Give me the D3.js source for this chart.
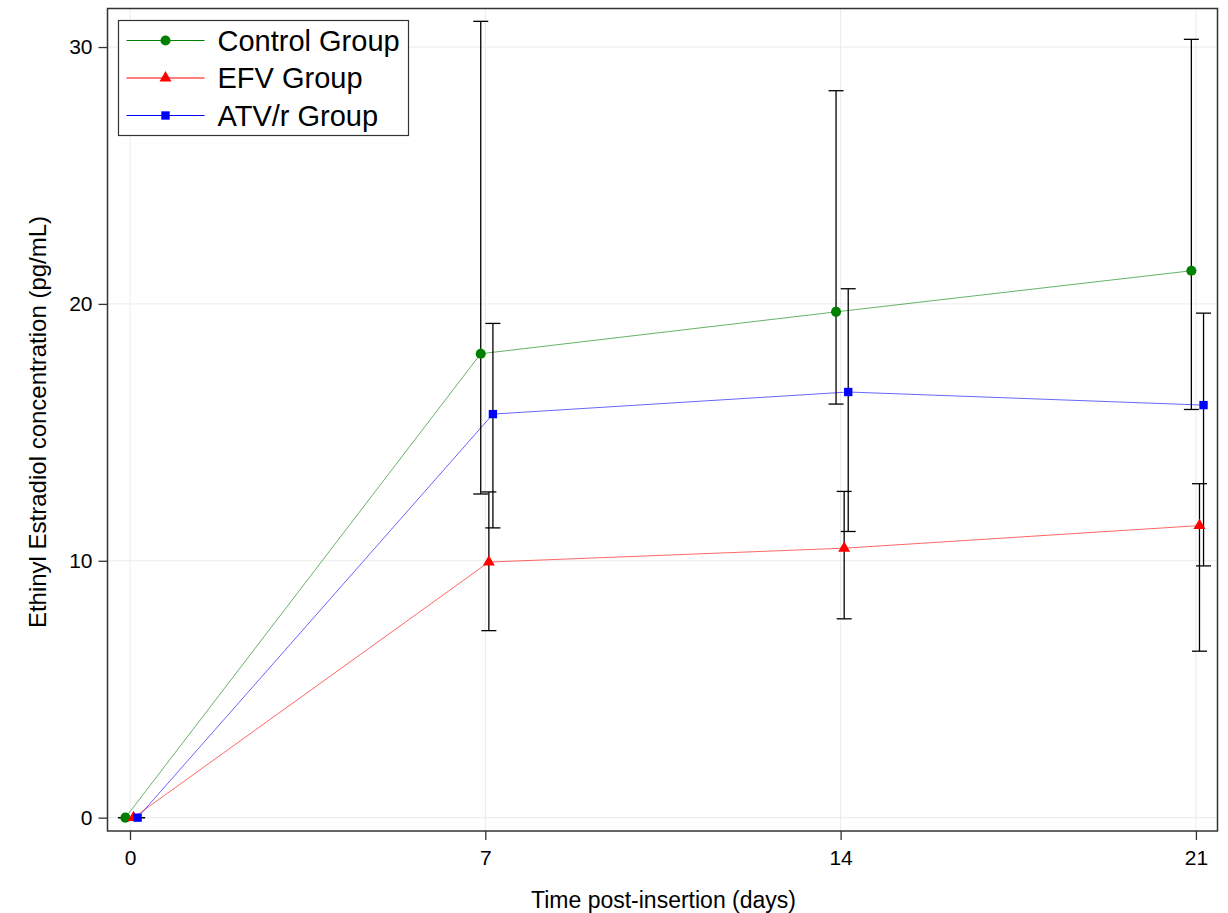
<!DOCTYPE html>
<html>
<head>
<meta charset="utf-8">
<script src="https://cdn.jsdelivr.net/npm/d3@7"></script>
<style>
  body { margin: 0; background: #fff; }
  text { font-family: "Liberation Sans", Arial, sans-serif; fill: #000; }
</style>
</head>
<body>
<svg width="1228" height="913"></svg>
<script>
// data
const days = [0, 7, 14, 21];
const groups = ["Control Group", "EFV Group", "ATV/r Group"];
const colors = ["#008000", "#ff0000", "#0000ff"];
const shapes = ["circle", "triangle", "square"];
const dodge = [-0.09, 0.07, 0.15];   // small horizontal offset per group (days)

const controlMean = [0, 18.06, 19.69, 21.29];
const controlLow  = [0, 12.6, 16.1, 15.89];
const controlHigh = [0, 31.0, 28.3, 30.3];

const efvMean = [0, 9.95, 10.49, 11.37];
const efvLow  = [0, 7.28, 7.74, 6.48];
const efvHigh = [0, 12.68, 12.7, 13.0];

const atvMean = [0, 15.71, 16.57, 16.06];
const atvLow  = [0, 11.28, 11.14, 9.8];
const atvHigh = [0, 19.24, 20.59, 19.64];

const yTicks = [0, 10, 20, 30];

const series = [
    {mean: controlMean, low: controlLow, high: controlHigh},
    {mean: efvMean, low: efvLow, high: efvHigh},
    {mean: atvMean, low: atvLow, high: atvHigh}
].map((s, i) => ({
    name: groups[i], color: colors[i], shape: shapes[i], dx: dodge[i],
    pts: days.map((d, j) => ({day: d, mean: s.mean[j], low: s.low[j], high: s.high[j]}))
}));

const svg = d3.select("svg");
const pLeft = 107.5, pRight = 1217.5, pTop = 8.5, pBottom = 831;

const x = d3.scaleLinear().domain([-0.443, 21.425]).range([pLeft, pRight]);
const y = d3.scaleLinear().domain([-0.52, 31.5]).range([pBottom, pTop]);

// grid
const grid = svg.append("g").attr("stroke", "#ebebeb").attr("stroke-width", 1);
grid.selectAll(".gx").data(days).enter().append("line")
    .attr("x1", d => x(d)).attr("x2", d => x(d))
    .attr("y1", pTop).attr("y2", pBottom);
grid.selectAll(".gy").data(yTicks).enter().append("line")
    .attr("x1", pLeft).attr("x2", pRight)
    .attr("y1", d => y(d)).attr("y2", d => y(d));

// axes
const xAxis = d3.axisBottom(x).tickValues(days).tickSize(9).tickPadding(10);
const yAxis = d3.axisLeft(y).tickValues(yTicks).tickSize(9).tickPadding(6);

const gx = svg.append("g").attr("transform", "translate(0," + pBottom + ")").call(xAxis);
const gy = svg.append("g").attr("transform", "translate(" + pLeft + ",0)").call(yAxis);
[gx, gy].forEach(g => {
    g.select(".domain").remove();
    g.selectAll(".tick line").attr("stroke", "#333").attr("stroke-width", 1.3);
    g.selectAll(".tick text").style("font-size", "21px").attr("fill", "#000");
});

// lines
const line = d3.line().x(d => d.x).y(d => d.y);
series.forEach(s => {
    svg.append("path")
        .datum(s.pts.map(p => ({x: x(p.day + s.dx), y: y(p.mean)})))
        .attr("d", line)
        .attr("fill", "none")
        .attr("stroke", s.color)
        .attr("stroke-opacity", 0.6)
        .attr("stroke-width", 1);
});

// error bars
series.forEach(s => {
    const g = svg.append("g").attr("stroke", "#000").attr("stroke-width", 1.3);
    s.pts.forEach(p => {
        const cx = x(p.day + s.dx);
        g.append("line").attr("x1", cx).attr("x2", cx).attr("y1", y(p.low)).attr("y2", y(p.high));
        [p.low, p.high].forEach(v => {
            g.append("line").attr("x1", cx - 7.5).attr("x2", cx + 7.5)
                .attr("y1", y(v)).attr("y2", y(v));
        });
    });
});

// markers
const symbolFor = {
    circle: d3.symbol().type(d3.symbolCircle).size(80),
    triangle: d3.symbol().type(d3.symbolTriangle).size(62),
    square: d3.symbol().type(d3.symbolSquare).size(70)
};
series.forEach(s => {
    svg.append("g").selectAll("path").data(s.pts).enter().append("path")
        .attr("transform", p => "translate(" + x(p.day + s.dx) + "," + y(p.mean) + ")")
        .attr("d", symbolFor[s.shape])
        .attr("fill", s.color);
});

// frame
svg.append("rect")
    .attr("x", pLeft).attr("y", pTop)
    .attr("width", pRight - pLeft).attr("height", pBottom - pTop)
    .attr("fill", "none").attr("stroke", "#333").attr("stroke-width", 1.5);

// legend
const lg = svg.append("g").attr("transform", "translate(118.5,20.5)");
lg.append("rect").attr("width", 290).attr("height", 115)
    .attr("fill", "#fff").attr("stroke", "#333").attr("stroke-width", 1.2);
series.forEach((s, i) => {
    const ly = 20 + i * 37.5;
    lg.append("line").attr("x1", 8).attr("x2", 86).attr("y1", ly).attr("y2", ly)
        .attr("stroke", s.color).attr("stroke-width", 1.2);
    lg.append("path").attr("transform", "translate(47," + ly + ")")
        .attr("d", symbolFor[s.shape]).attr("fill", s.color);
    lg.append("text").attr("x", 99).attr("y", ly).attr("dy", "0.36em")
        .style("font-size", "29px").text(s.name);
});

// axis titles
svg.append("text")
    .attr("x", (pLeft + pRight) / 2 + 1).attr("y", 908)
    .attr("text-anchor", "middle")
    .style("font-size", "23px")
    .text("Time post-insertion (days)");

svg.append("text")
    .attr("transform", "translate(46," + 422 + ") rotate(-90)")
    .attr("text-anchor", "middle")
    .style("font-size", "24px")
    .text("Ethinyl Estradiol concentration (pg/mL)");
</script>
</body>
</html>
